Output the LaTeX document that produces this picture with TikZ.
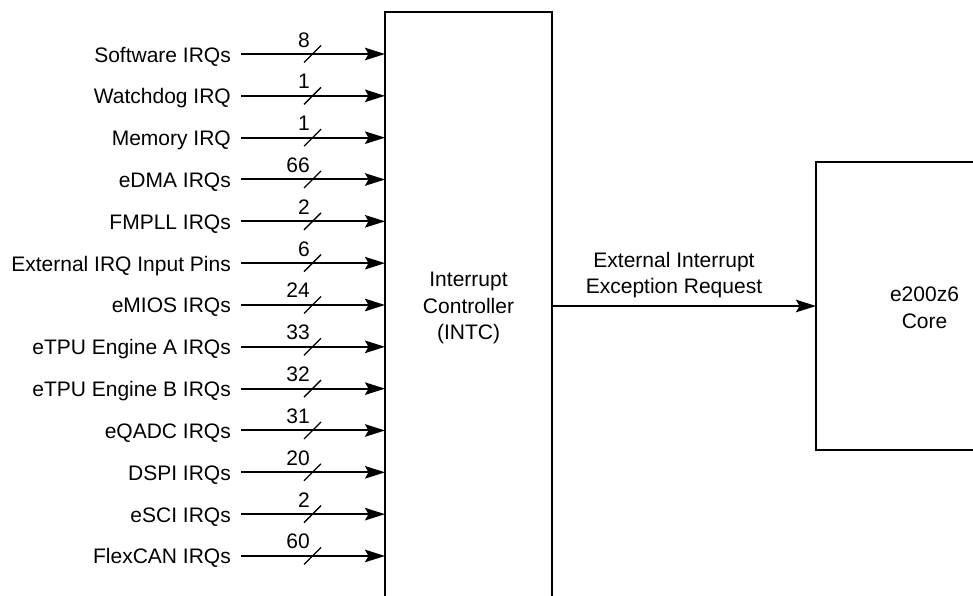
\documentclass[tikz,border=0pt]{standalone}
\usepackage{fontspec}
\setmainfont{Liberation Sans}
\usetikzlibrary{arrows.meta,calc}
\begin{document}
\begin{tikzpicture}[x=1pt,y=1pt,
  font=\fontsize{21}{26.5}\selectfont,
  arr/.style={line width=2pt,-{Stealth[length=20pt,width=12.5pt,inset=3.5pt]}},
  box/.style={draw,line width=2pt,inner sep=0pt,outer sep=0pt,align=center},
  inlabel/.style={anchor=east,text height=16pt,text depth=0pt,inner ysep=0pt,inner xsep=10pt},
  count/.style={anchor=base east,inner sep=0pt},
  tick/.style={line width=1.3pt},
  reqlabel/.style={anchor=south,inner sep=0pt,align=center}]
\useasboundingbox (0,0) rectangle (973,-595);
\clip (0,0) rectangle (973,-595);
\node[box,minimum width=167pt,minimum height=588pt] (intc) at (468.5,-306) {};
\node[align=center] (intctext) at (468.5,-308) {Interrupt\\Controller\\(INTC)};
\node[box,minimum width=217pt,minimum height=288pt] (core) at (924.5,-306) {};
\node[align=center] (coretext) at (924.5,-308) {e200z6\\Core};
\foreach \lab/\n [count=\i from 0] in {Software IRQs/8, Watchdog IRQ/1, Memory IRQ/1, eDMA IRQs/66, FMPLL IRQs/2, External IRQ Input Pins/6, eMIOS IRQs/24, eTPU Engine A IRQs/33, eTPU Engine B IRQs/32, eQADC IRQs/31, DSPI IRQs/20, eSCI IRQs/2, FlexCAN IRQs/60} {
  \pgfmathsetmacro\yy{-(54+41.83*\i)}
  \node[inlabel] (l\i) at (241,\yy) {\lab};
  \draw[arr] (l\i.east) -- (l\i.east -| intc.west);
  \draw[tick] ($(l\i.east)+(63,-8.5)$) -- ++(17,17);
  \node[count] (n\i) at ($(l\i.east)+(69,7)$) {\n};
}
\draw[arr] (intc.east |- core.west) -- (core.west);
\node[reqlabel] (req) at (674,-298.4) {External Interrupt\\Exception Request};
\end{tikzpicture}
\end{document}
